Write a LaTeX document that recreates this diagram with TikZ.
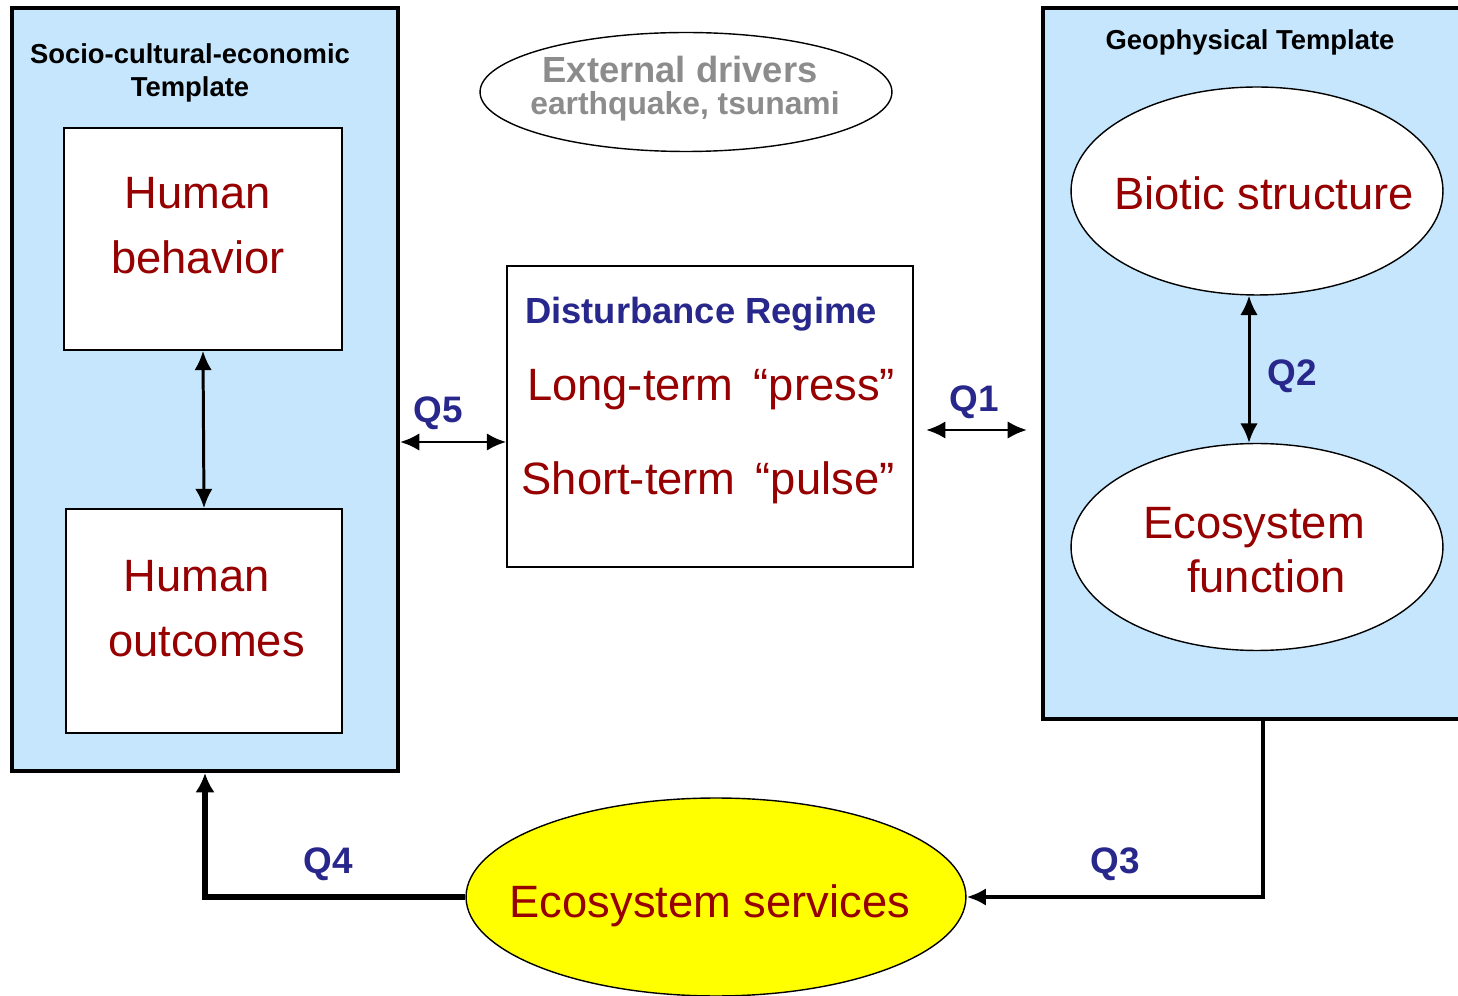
\documentclass[tikz,border=0pt]{standalone}
\usepackage{fontspec}
\setmainfont{Liberation Sans}
\usetikzlibrary{shapes.geometric,arrows.meta}
\definecolor{tplblue}{RGB}{197,230,252}
\definecolor{dred}{RGB}{150,0,0}
\definecolor{qblue}{RGB}{40,40,140}
\definecolor{dgrey}{RGB}{140,140,140}
\definecolor{esyellow}{RGB}{255,255,0}
\begin{document}
\begin{tikzpicture}[x=0.02cm,y=-0.02cm,
  tpl/.style={draw=black,line width=2.3pt,fill=tplblue,inner sep=0pt},
  wbox/.style={draw=black,line width=1pt,fill=white,inner sep=0pt},
  ell/.style={ellipse,draw=black,line width=0.8pt,inner sep=0pt},
  bigtxt/.style={text=dred,align=center,font=\fontsize{25.8pt}{37pt}\selectfont},
  tpltxt/.style={align=center,font=\bfseries\fontsize{15.6pt}{18.5pt}\selectfont},
  qlab/.style={text=qblue,font=\bfseries\fontsize{21pt}{24pt}\selectfont},
  dbl/.style={{Latex[length=11pt,width=10pt]}-{Latex[length=11pt,width=10pt]},line width=1.7pt},
]
\useasboundingbox (0,0) rectangle (1458,996);

% templates
\node[tpl,minimum width=7.72cm,minimum height=15.26cm] (left) at (205,389.5) {};
\node[tpl,minimum width=8.64cm,minimum height=14.22cm] (right) at (1259,363.5) {};
\node[tpltxt] (lefttitle) at (190,73) {Socio-cultural-economic\\Template};
\node[tpltxt] (righttitle) at (1250,42) {Geophysical Template};

% human boxes
\node[wbox,minimum width=5.56cm,minimum height=4.44cm] (hb) at (203,239) {};
\node[bigtxt] (hbt) at (198,226) {Human\\behavior};
\node[wbox,minimum width=5.52cm,minimum height=4.48cm] (ho) at (204,621) {};
\node[bigtxt] (hot) at (204,609) {\hspace*{-0.3cm}Human\\\hspace*{0.1cm}outcomes};

% external drivers
\node[ell,minimum width=8.24cm,minimum height=2.38cm] (ext) at (686,92) {};
\node[text=dgrey,font=\bfseries\fontsize{20.7pt}{24pt}\selectfont] (extt) at (680,70) {External drivers};
\node[text=dgrey,font=\bfseries\fontsize{18.1pt}{20pt}\selectfont] (exts) at (685,106) {earthquake, tsunami};

% disturbance regime
\node[wbox,minimum width=8.12cm,minimum height=6.02cm] (dist) at (710,416.5) {};
\node[text=qblue,font=\bfseries\fontsize{20.7pt}{24pt}\selectfont] (distt) at (701,314) {Disturbance Regime};
\node[bigtxt] (press) at (711,390) {Long-term \,“press”};
\node[bigtxt] (pulse) at (708,483) {Short-term \,“pulse”};

% right ellipses
\node[ell,fill=white,minimum width=7.44cm,minimum height=4.16cm] (bio) at (1257,191) {};
\node[bigtxt] (biot) at (1264,193) {Biotic structure};
\node[ell,fill=white,minimum width=7.44cm,minimum height=4.14cm] (ef) at (1257,547) {};
\node[bigtxt,font=\fontsize{25.8pt}{30.6pt}\selectfont] (eft) at (1254,550) {Ecosystem\\\hspace*{0.5cm}function};

% ecosystem services
\node[ell,fill=esyellow,minimum width=10cm,minimum height=3.96cm] (es) at (716,897) {};
\node[bigtxt] (est) at (710,906) {Ecosystem services};

% helper coordinates
\coordinate (q5c) at (450,442);
\coordinate (q1c) at (975,430);
\coordinate (q2c) at (1249,370);
\coordinate (q3c) at (1263,894);

% connectors
\draw[dbl] (hb.south) -- (ho.north);
\draw[dbl] (left.east |- q5c) -- (dist.west |- q5c);
\draw[dbl,shorten <=7pt,shorten >=8pt] (dist.east |- q1c) -- (right.west |- q1c);
\draw[dbl] (bio.south -| q2c) -- (ef.north -| q2c);
\draw[line width=2.3pt,-{Latex[length=11pt,width=10pt]}] (right.south -| q3c) |- (es.east);
\draw[line width=3.4pt,-{Latex[length=11pt,width=11pt]}] (es.west) -| (left.south);

% labels
\node[qlab] (q5) at (438,413) {Q5};
\node[qlab] (q1) at (974,402) {Q1};
\node[qlab] (q2) at (1292,376) {Q2};
\node[qlab] (q4) at (328,864) {Q4};
\node[qlab] (q3) at (1115,864) {Q3};
\end{tikzpicture}
\end{document}
